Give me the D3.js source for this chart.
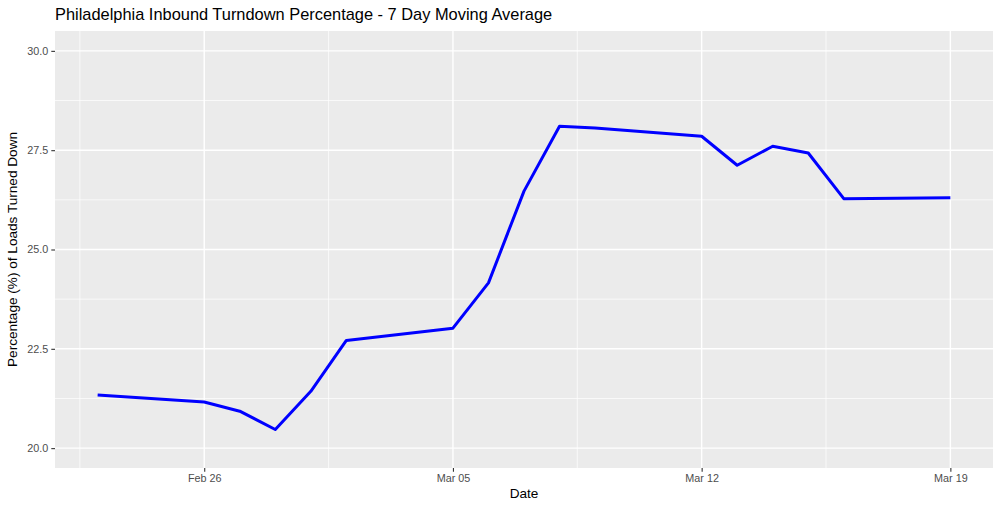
<!DOCTYPE html>
<html>
<head>
<meta charset="utf-8">
<script src="https://cdn.jsdelivr.net/npm/d3@7"></script>
<style>
  body { margin: 0; background: #fff; }
  text { font-family: "Liberation Sans", Arial, sans-serif; }
</style>
</head>
<body>
<div id="chart"></div>
<script>
// weekday 7-day moving average
const dates = ['2018-02-23', '2018-02-26', '2018-02-27', '2018-02-28', '2018-03-01', '2018-03-02',
    '2018-03-05', '2018-03-06', '2018-03-07', '2018-03-08', '2018-03-09',
    '2018-03-12', '2018-03-13', '2018-03-14', '2018-03-15', '2018-03-16', '2018-03-19']
const values = [21.34, 21.16, 20.93, 20.47, 21.43, 22.71,
    23.02, 24.16, 26.47, 28.10, 28.06,
    27.85, 27.12, 27.60, 27.43, 26.28, 26.30]
const yTicks = [20, 22.5, 25, 27.5, 30]
const yMinor = [21.25, 23.75, 26.25, 28.75]
const xTicks = ['2018-02-26', '2018-03-05', '2018-03-12', '2018-03-19']
const xMinor = ['2018-02-22T12:00', '2018-03-01T12:00', '2018-03-08T12:00', '2018-03-15T12:00']

const WIDTH = 1000
const HEIGHT = 505
const margin = { top: 31, right: 7, bottom: 37, left: 55 }

const parse = s => new Date(s.length > 10 ? s : s + 'T00:00')
const data = dates.map((d, i) => ({ date: parse(d), value: values[i] }))

const svg = d3.select('#chart')
    .append('svg')
    .attr('width', WIDTH)
    .attr('height', HEIGHT)

const x0 = parse('2018-02-23'), x1 = parse('2018-03-19')
const xPad = (x1 - x0) * 0.05
const xScale = d3.scaleTime()
    .domain([new Date(+x0 - xPad), new Date(+x1 + xPad)])
    .range([margin.left, WIDTH - margin.right])

const yScale = d3.scaleLinear()
    .domain([19.5, 30.5])
    .range([HEIGHT - margin.bottom, margin.top])

// panel
svg.append('rect')
    .attr('x', margin.left)
    .attr('y', margin.top)
    .attr('width', WIDTH - margin.left - margin.right)
    .attr('height', HEIGHT - margin.top - margin.bottom)
    .attr('fill', '#EBEBEB')

const grid = svg.append('g').attr('stroke', '#fff')
grid.selectAll('.ymin').data(yMinor).join('line')
    .attr('x1', margin.left).attr('x2', WIDTH - margin.right)
    .attr('y1', d => yScale(d)).attr('y2', d => yScale(d))
    .attr('stroke-width', 0.7)
grid.selectAll('.xmin').data(xMinor).join('line')
    .attr('y1', margin.top).attr('y2', HEIGHT - margin.bottom)
    .attr('x1', d => xScale(parse(d))).attr('x2', d => xScale(parse(d)))
    .attr('stroke-width', 0.7)
grid.selectAll('.ymaj').data(yTicks).join('line')
    .attr('x1', margin.left).attr('x2', WIDTH - margin.right)
    .attr('y1', d => yScale(d)).attr('y2', d => yScale(d))
    .attr('stroke-width', 1.4)
grid.selectAll('.xmaj').data(xTicks).join('line')
    .attr('y1', margin.top).attr('y2', HEIGHT - margin.bottom)
    .attr('x1', d => xScale(parse(d))).attr('x2', d => xScale(parse(d)))
    .attr('stroke-width', 1.4)

// axes
const styleAxis = g => {
    g.select('.domain').remove()
    g.selectAll('.tick line').attr('stroke', '#333333').attr('stroke-width', 1.1)
    g.selectAll('.tick text')
        .attr('fill', '#4D4D4D')
        .style('font-size', '10.8px')
        .style('font-family', '"Liberation Sans", Arial, sans-serif')
}

svg.append('g')
    .attr('transform', `translate(0, ${HEIGHT - margin.bottom})`)
    .call(d3.axisBottom(xScale)
        .tickValues(xTicks.map(parse))
        .tickFormat(d3.timeFormat('%b %d'))
        .tickSize(3.7)
        .tickPadding(3))
    .call(styleAxis)

svg.append('g')
    .attr('transform', `translate(${margin.left}, 0)`)
    .call(d3.axisLeft(yScale)
        .tickValues(yTicks)
        .tickFormat(d3.format('.1f'))
        .tickSize(3.7)
        .tickPadding(3))
    .call(styleAxis)

// line
const line = d3.line()
    .x(d => xScale(d.date))
    .y(d => yScale(d.value))

svg.append('path')
    .datum(data)
    .attr('fill', 'none')
    .attr('stroke', '#0000FF')
    .attr('stroke-width', 3)
    .attr('stroke-linejoin', 'round')
    .attr('d', line)

// titles
svg.append('text')
    .attr('x', margin.left)
    .attr('y', 20)
    .style('font-size', '16.4px')
    .attr('fill', '#000')
    .text('Philadelphia Inbound Turndown Percentage - 7 Day Moving Average')

svg.append('text')
    .attr('x', (margin.left + WIDTH - margin.right) / 2)
    .attr('y', 498)
    .attr('text-anchor', 'middle')
    .style('font-size', '13.6px')
    .attr('fill', '#000')
    .text('Date')

svg.append('text')
    .attr('transform', `translate(17, ${(margin.top + HEIGHT - margin.bottom) / 2}) rotate(-90)`)
    .attr('text-anchor', 'middle')
    .style('font-size', '13.6px')
    .attr('fill', '#000')
    .text('Percentage (%) of Loads Turned Down')
</script>
</body>
</html>
